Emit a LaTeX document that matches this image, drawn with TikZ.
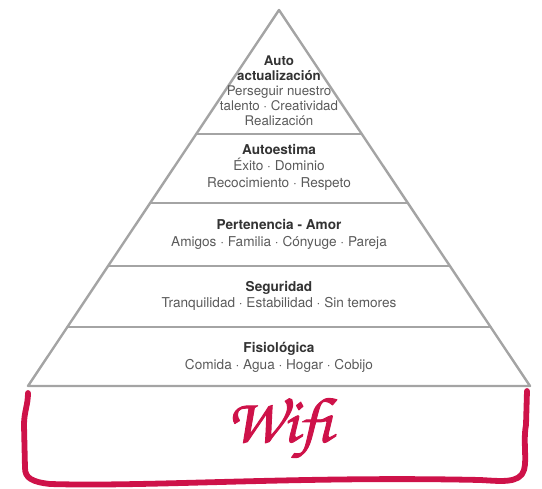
\documentclass[tikz,border=0pt]{standalone}
\usepackage{fontspec}
\setmainfont{TeX Gyre Heros}
\newfontfamily\wififont{TeX Gyre Chorus}[FakeBold=1.5]
\definecolor{pyrgray}{HTML}{A4A4A4}
\definecolor{bodygray}{HTML}{5A5A5A}
\definecolor{titlegray}{HTML}{333333}
\definecolor{wifired}{HTML}{CE1249}
\tikzset{
  levelbox/.style={align=center, text=bodygray, font=\fontsize{13.6}{16.5}\selectfont},
  pyrline/.style={pyrgray, line width=2.4pt},
}
\newcommand{\lvltitle}[1]{{\bfseries\color{titlegray}#1}}

\begin{document}
\begin{tikzpicture}[x=1pt,y=-1pt, line join=round, line cap=round]
  \useasboundingbox (0,0) rectangle (542,489);
  % pyramid
  \coordinate (apex) at (279,10);
  \coordinate (baseL) at (28,386);
  \coordinate (baseR) at (530,386);
  \draw[pyrline] (baseL) -- (apex) -- (baseR) -- cycle;
  \foreach \y in {134,203,266,327}
    \draw[pyrline] ({279-(\y-10)*0.6676},\y) -- ({279+(\y-10)*0.6676},\y);
  % levels
  \node[levelbox, font=\fontsize{13.3}{15}\selectfont] (selfact) at (279,91)
    {\lvltitle{Auto}\\\lvltitle{actualización}\\Perseguir nuestro\\talento · Creatividad\\Realización};
  \node[levelbox] (esteem) at (279,167)
    {\lvltitle{Autoestima}\\Éxito · Dominio\\Recocimiento · Respeto};
  \node[levelbox] (love) at (279,234.5)
    {\lvltitle{Pertenencia - Amor}\\Amigos · Familia · Cónyuge · Pareja};
  \node[levelbox] (safety) at (279,296)
    {\lvltitle{Seguridad}\\Tranquilidad · Estabilidad · Sin temores};
  \node[levelbox] (physio) at (279,357.5)
    {\lvltitle{Fisiológica}\\Comida · Agua · Hogar · Cobijo};
  % wifi base
  \draw[wifired, line width=5.8pt]
    (28,393) .. controls (28,405) and (24,412) .. (24,425) -- (25,468)
    .. controls (25,478) and (32,482) .. (50,484)
    .. controls (150,487) and (300,476) .. (480,480)
    .. controls (500,481) and (520,484) .. (524,470)
    .. controls (527,460) and (523,440) .. (526,425) -- (527,391);
  \node[text=wifired, font=\wififont\fontsize{64}{66}\selectfont] (wifi) at (279,428) {Wifi};
\end{tikzpicture}
\end{document}
